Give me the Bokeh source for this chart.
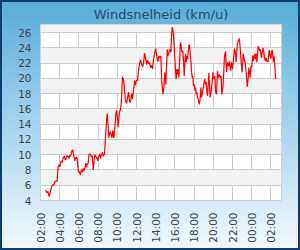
import math
from bokeh.plotting import figure
from bokeh.models import Range1d, FixedTicker, ColumnDataSource
from bokeh.embed import file_html
from bokeh.resources import INLINE

title_text = "Windsnelheid (km/u)"

# minutes after 02:00 (first day)
minutes = [
    31, 40, 46, 54, 60, 69, 75, 79, 83, 88, 94, 98, 104, 108, 110, 117, 121, 125, 131, 137,
    142, 150, 154, 160, 167, 171, 175, 179, 183, 188, 192, 198, 202, 206, 210, 215, 219, 223, 227, 231,
    237, 242, 246, 250, 254, 258, 262, 267, 273, 279, 283, 287, 292, 298, 304, 308, 312, 317, 321, 325,
    329, 333, 337, 342, 346, 350, 354, 358, 362, 367, 371, 375, 379, 383, 387, 392, 396, 400,
    406, 413, 417, 423, 427, 433, 440, 446, 452, 458, 465, 471, 477, 481, 485, 490, 494, 500, 506, 512,
    519, 525, 531, 538, 544, 550, 556, 562, 569, 575, 581, 588, 594, 600, 606, 613, 619, 625, 631, 638,
    644, 650, 656, 663, 669, 675, 681, 688, 694, 700, 706, 713,
    719, 727, 733, 740, 746, 752, 758, 765, 771, 777, 783, 792, 796, 802, 808, 815, 819, 823, 827, 831,
    835, 844, 848, 852, 856, 860, 865, 869, 873, 877, 881, 885, 890, 894, 898, 902, 906, 910, 915, 919,
    923, 927, 931, 935, 940, 944, 948, 952, 956, 960, 965, 969, 973, 977, 981, 985, 990, 994, 998, 1002,
    1006, 1010, 1015, 1019, 1023, 1027, 1031, 1035, 1040, 1044, 1048, 1052, 1056, 1060, 1065, 1069, 1073, 1077, 1081, 1085,
    1090,
    1094, 1100, 1106, 1110, 1117, 1123, 1129, 1133, 1140, 1144, 1150, 1156, 1163, 1169, 1175, 1181, 1188, 1194, 1200, 1206,
    1212, 1219, 1223, 1229, 1235, 1242, 1248, 1254, 1260, 1267, 1273, 1279, 1285, 1292, 1298, 1302, 1306, 1310, 1315, 1319,
    1323, 1327, 1331, 1335, 1340, 1344, 1348, 1352, 1356, 1360, 1365, 1369, 1373, 1377, 1381, 1385, 1390, 1394, 1398, 1402,
    1406, 1410, 1415, 1419, 1423, 1427, 1431, 1435, 1440, 1444, 1448, 1452, 1456, 1460, 1465, 1469,
]

speed = [
    5.4, 5.0, 5.2, 4.5, 5.0, 5.8, 6.0, 6.1, 6.0, 6.4, 6.5, 6.6, 6.5, 7.7, 8.4, 8.7, 8.4, 8.9, 9.2, 9.0,
    9.6, 9.8, 9.3, 9.5, 9.9, 9.7, 9.8, 9.5, 9.9, 9.8, 10.1, 10.6, 10.6, 10.1, 9.6, 9.2, 9.6, 9.5, 9.7, 9.0,
    7.7, 7.8, 7.5, 7.4, 7.9, 8.0, 7.7, 8.2, 7.9, 8.4, 8.9, 8.4, 8.7, 8.9, 10.1, 10.0, 10.1, 9.7, 9.9, 9.6,
    8.0, 8.7, 9.8, 10.0, 9.8, 9.5, 9.6, 9.2, 9.7, 9.9, 10.1, 9.5, 9.9, 10.0, 10.3, 9.8, 10.1, 10.0,
    12.3, 14.5, 15.4, 13.6, 12.2, 13.0, 12.8, 12.2, 13.2, 12.2, 13.6, 15.4, 15.8, 14.8, 13.6, 14.8, 15.7, 15.9, 17.1, 20.2,
    19.8, 18.4, 17.1, 16.7, 17.5, 18.2, 17.1, 16.8, 18.0, 17.3, 18.4, 19.7, 19.1, 19.8, 19.7, 21.1, 21.9, 22.4, 21.9, 21.5,
    22.0, 23.3, 22.7, 21.8, 22.4, 21.9, 22.1, 21.4, 21.7, 21.2, 22.4, 23.2,
    23.9, 22.9, 22.2, 22.9, 22.7, 22.9, 19.5, 17.9, 18.8, 20.8, 19.2, 23.8, 22.9, 23.4, 23.8, 23.4, 25.6, 26.7, 26.4, 25.6,
    24.3, 21.0, 19.9, 21.2, 20.5, 21.2, 20.1, 22.1, 24.3, 24.7, 23.8, 23.4, 23.6, 22.1, 20.3, 21.9, 23.2, 22.1, 22.9, 22.5,
    23.4, 24.4, 24.3, 23.4, 22.3, 20.8, 20.1, 20.3, 19.0, 19.2, 18.4, 18.8, 17.9, 18.2, 17.5, 17.3, 16.8, 16.6, 17.5, 18.8,
    17.5, 17.9, 18.6, 19.0, 19.5, 19.9, 19.2, 19.5, 18.2, 17.7, 19.2, 20.7, 19.2, 17.5, 18.2, 18.8, 19.5, 20.8, 20.1, 19.9,
    20.3,
    18.2, 17.9, 21.0, 20.1, 20.5, 20.1, 20.3, 17.9, 18.8, 20.3, 23.0, 23.5, 20.8, 22.1, 21.6, 22.2, 21.0, 22.1, 21.2, 22.5,
    23.9, 23.2, 22.1, 24.3, 24.9, 25.2, 24.0, 22.1, 20.8, 23.2, 22.5, 22.1, 20.8, 18.9, 20.1, 21.4, 20.8, 20.1, 21.6, 21.4,
    22.1, 23.0, 22.3, 22.7, 23.2, 22.5, 23.2, 22.1, 23.2, 24.2, 24.0, 23.6, 23.8, 23.2, 22.7, 23.4, 24.0, 23.6, 22.9, 22.5,
    22.3, 22.7, 22.2, 22.2, 22.2, 23.4, 23.7, 22.9, 22.6, 23.4, 23.7, 22.9, 22.1, 22.9, 21.4, 19.9,
]

x_tick_hours = [0, 2, 4, 6, 8, 10, 12, 14, 16, 18, 20, 22, 24]
x_tick_labels = ["02:00", "04:00", "06:00", "08:00", "10:00", "12:00", "14:00",
                 "16:00", "18:00", "20:00", "22:00", "00:00", "02:00"]
y_ticks = [4, 6, 8, 10, 12, 14, 16, 18, 20, 22, 24, 26]

n = min(len(minutes), len(speed))
src = ColumnDataSource(data=dict(x=[m / 60.0 for m in minutes[:n]], y=speed[:n]))

p = figure(width=300, height=250, output_backend="svg", toolbar_location=None,
           x_range=Range1d(0, 25.1), y_range=Range1d(4, 27.05),
           min_border_left=40, min_border_right=19, min_border_top=24, min_border_bottom=50,
           title=title_text)

p.border_fill_color = None
p.background_fill_color = "white"
p.outline_line_color = "#cccccc"
p.styles = {
    "background": "linear-gradient(to bottom, #55acd9 0%, #a5d4ee 50%, #f3f9fc 100%)",
    "box-shadow": "inset 0 0 0 2px #0c3d6e",
}

p.title.align = "center"
p.title.text_font = "DejaVu Sans"
p.title.text_font_size = "13px"
p.title.text_font_style = "normal"
p.title.text_color = "#274b6d"
p.title.standoff = 5

p.xaxis.ticker = FixedTicker(ticks=x_tick_hours)
p.xaxis.major_label_overrides = {t: lab for t, lab in zip(x_tick_hours, x_tick_labels)}
p.xaxis.major_label_orientation = math.pi / 2
p.yaxis.ticker = FixedTicker(ticks=y_ticks)

for ax in (p.xaxis, p.yaxis):
    ax.axis_line_color = None
    ax.major_tick_line_color = None
    ax.minor_tick_line_color = None
    ax.major_tick_out = 0
    ax.major_tick_in = 0
    ax.major_label_text_font = "DejaVu Sans"
    ax.major_label_text_font_size = "10.5px"
    ax.major_label_text_color = "#444444"
p.xaxis.major_label_standoff = 12
p.yaxis.major_label_standoff = 9

p.xgrid.grid_line_color = "#cccccc"
p.ygrid.grid_line_color = "#cccccc"
p.ygrid.band_fill_color = "#f2f2f2"
p.ygrid.band_fill_alpha = 1.0

p.line("x", "y", source=src, line_color="#ff0000", line_width=1.2)

open("out.html", "w").write(file_html(p, INLINE))
